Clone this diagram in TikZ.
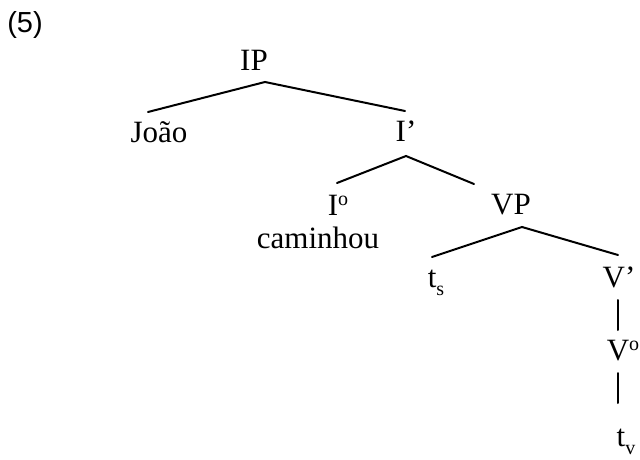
\documentclass[tikz,border=0pt]{standalone}
\usepackage{fontspec}
\setmainfont{Liberation Serif}
\newfontfamily\exfont{Liberation Sans}
\newcommand{\lowsub}[1]{\raisebox{-0.28em}{\fontsize{10}{10}\selectfont #1}}
\newcommand{\hisup}[1]{\raisebox{0.32em}{\fontsize{10}{10}\selectfont #1}}
\begin{document}
\begin{tikzpicture}[x=0.5pt,y=-0.5pt,
  lab/.style={inner sep=0pt, anchor=base, font=\fontsize{15.5}{18}\selectfont},
  branch/.style={line width=1pt, line cap=round}]
\useasboundingbox (0,0) rectangle (640,459);
\fill[white] (0,0) rectangle (640,459);
% example number
\node[inner sep=0pt, anchor=base, font=\exfont\fontsize{14.5}{16}\selectfont] (ex) at (25,33) {(5)};
% labels
\node[lab] (IP) at (254,71) {IP};
\node[lab] (Joao) at (159,143) {João};
\node[lab] (Ibar) at (406,142) {I’};
\node[lab] (Inull) at (338,215) {I\hisup{o}};
\node[lab] (cam) at (318,249) {caminhou};
\node[lab] (VP) at (511,214) {VP};
\node[lab] (ts) at (436,287) {t\lowsub{s}};
\node[lab] (Vbar) at (619,287) {V’};
\node[lab] (Vnull) at (623,360) {V\hisup{o}};
\node[lab] (tv) at (626,446) {t\lowsub{v}};
% branch points
\coordinate (IPb) at (265,82);
\coordinate (Joaot) at (148,112);
\coordinate (Ibart) at (405,111);
\coordinate (Ibarb) at (406,156);
\coordinate (Inullt) at (337,183);
\coordinate (VPt) at (474,184);
\coordinate (VPb) at (522,227);
\coordinate (tst) at (432,257);
\coordinate (Vbart) at (618,255);
\coordinate (Vbarb) at (618,300);
\coordinate (Vnullt) at (618,330);
\coordinate (Vnullb) at (618,373);
\coordinate (tvt) at (618,403);
% branches
\draw[branch] (Joaot) -- (IPb) -- (Ibart);
\draw[branch] (Inullt) -- (Ibarb) -- (VPt);
\draw[branch] (tst) -- (VPb) -- (Vbart);
\draw[branch] (Vbarb) -- (Vnullt);
\draw[branch] (Vnullb) -- (tvt);
\end{tikzpicture}
\end{document}
